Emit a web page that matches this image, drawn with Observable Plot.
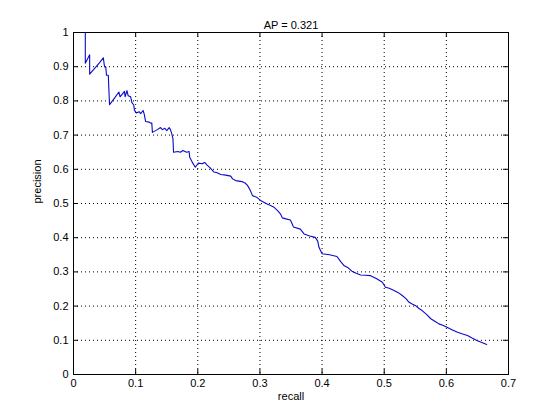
<!DOCTYPE html>
<html>
<head>
<meta charset="utf-8">
<script src="https://cdn.jsdelivr.net/npm/d3@7"></script>
<script src="https://cdn.jsdelivr.net/npm/@observablehq/plot@0.6"></script>
<style>
  html, body { margin: 0; padding: 0; background: #fff; }
</style>
</head>
<body>
<div id="chart"></div>
<script>
const title = "AP = 0.321";
const xLabel = "recall";
const yLabel = "precision";
const xTicks = [0, 0.1, 0.2, 0.3, 0.4, 0.5, 0.6, 0.7];
const yTicks = [0, 0.1, 0.2, 0.3, 0.4, 0.5, 0.6, 0.7, 0.8, 0.9, 1];

const recall = [
  0.019, 0.019, 0.026, 0.026, 0.034, 0.042, 0.048, 0.050, 0.052, 0.053,
  0.056, 0.057, 0.058, 0.066, 0.073, 0.075, 0.082, 0.083, 0.086, 0.088,
  0.092, 0.094, 0.097, 0.098, 0.101, 0.106, 0.108, 0.112, 0.114, 0.116,
  0.122, 0.124, 0.126, 0.127, 0.135, 0.140, 0.143, 0.147, 0.150, 0.154,
  0.156, 0.158, 0.160, 0.161, 0.168, 0.172, 0.176, 0.182, 0.186, 0.187,
  0.191, 0.196, 0.201, 0.207, 0.211, 0.215, 0.220, 0.226, 0.231, 0.237,
  0.245, 0.253, 0.256, 0.261, 0.271, 0.276, 0.280, 0.284, 0.288, 0.295,
  0.301, 0.310, 0.317, 0.322, 0.328, 0.333, 0.336, 0.342, 0.349, 0.352,
  0.354, 0.365, 0.371, 0.380, 0.389, 0.393, 0.395, 0.400, 0.412, 0.424,
  0.430, 0.435, 0.442, 0.448, 0.455, 0.462, 0.470, 0.478, 0.488, 0.497,
  0.502, 0.508, 0.515, 0.522, 0.529, 0.535, 0.540, 0.545, 0.550, 0.556,
  0.561, 0.568, 0.575, 0.582, 0.588, 0.595, 0.601, 0.609, 0.617, 0.625,
  0.634, 0.642, 0.650, 0.658, 0.665
];
const precision = [
  1.000, 0.910, 0.935, 0.878, 0.895, 0.912, 0.926, 0.899, 0.899, 0.875,
  0.875, 0.830, 0.789, 0.808, 0.826, 0.812, 0.828, 0.812, 0.830, 0.815,
  0.812, 0.795, 0.788, 0.773, 0.765, 0.768, 0.763, 0.772, 0.760, 0.740,
  0.738, 0.735, 0.735, 0.708, 0.716, 0.722, 0.716, 0.720, 0.713, 0.722,
  0.716, 0.705, 0.690, 0.650, 0.652, 0.650, 0.655, 0.650, 0.652, 0.635,
  0.621, 0.606, 0.618, 0.616, 0.620, 0.612, 0.604, 0.592, 0.590, 0.585,
  0.583, 0.580, 0.572, 0.567, 0.564, 0.560, 0.553, 0.540, 0.523, 0.518,
  0.509, 0.500, 0.494, 0.490, 0.480, 0.470, 0.458, 0.455, 0.452, 0.440,
  0.431, 0.425, 0.411, 0.405, 0.401, 0.390, 0.372, 0.353, 0.350, 0.345,
  0.330, 0.319, 0.312, 0.302, 0.296, 0.291, 0.290, 0.289, 0.280, 0.270,
  0.255, 0.252, 0.246, 0.240, 0.231, 0.222, 0.211, 0.206, 0.202, 0.193,
  0.187, 0.176, 0.163, 0.155, 0.148, 0.143, 0.138, 0.131, 0.124, 0.119,
  0.114, 0.106, 0.099, 0.093, 0.088
];

const data = recall.map((r, i) => ({recall: r, precision: precision[i]}));

const W = 560, H = 420;
const mL = 73, mR = 52, mT = 32, mB = 46;
const pw = W - mL - mR, ph = H - mT - mB;
const tickLen = 5;
const fmt = d => String(+d.toFixed(1));

const chart = Plot.plot({
  width: W,
  height: H,
  marginLeft: mL,
  marginRight: mR,
  marginTop: mT,
  marginBottom: mB,
  style: {background: "#fff", fontFamily: "'Liberation Sans', Arial, Helvetica, sans-serif", fontSize: "11px", color: "#000"},
  x: {domain: [0, 0.7]},
  y: {domain: [0, 1]},
  marks: [
    Plot.gridX(xTicks, {stroke: "#000", strokeOpacity: 1, strokeDasharray: "1,3"}),
    Plot.gridY(yTicks, {stroke: "#000", strokeOpacity: 1, strokeDasharray: "1,3"}),
    Plot.ruleX(xTicks, {x: d => d, stroke: "#000", insetTop: ph - tickLen}),
    Plot.ruleX(xTicks, {x: d => d, stroke: "#000", insetBottom: ph - tickLen}),
    Plot.ruleY(yTicks, {y: d => d, stroke: "#000", insetRight: pw - tickLen}),
    Plot.ruleY(yTicks, {y: d => d, stroke: "#000", insetLeft: pw - tickLen}),
    Plot.frame({stroke: "#000", strokeWidth: 1}),
    Plot.axisX(xTicks, {tickSize: 0, tickPadding: 5, tickFormat: fmt, label: null}),
    Plot.axisY(yTicks, {tickSize: 0, tickPadding: 5, tickFormat: fmt, label: null}),
    Plot.line(data, {x: "recall", y: "precision", stroke: "#0a0ac8", strokeWidth: 1.1}),
    Plot.text([title], {frameAnchor: "top", dy: -11, text: d => d, fontSize: 11}),
    Plot.text([xLabel], {frameAnchor: "bottom", dy: 25, text: d => d, fontSize: 11}),
    Plot.text([yLabel], {frameAnchor: "left", dx: -36, rotate: -90, text: d => d, fontSize: 11})
  ]
});
document.getElementById("chart").appendChild(chart);
</script>
</body>
</html>
